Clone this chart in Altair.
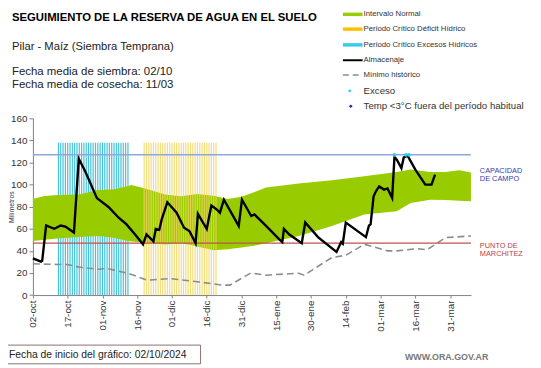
import altair as alt
import pandas as pd

# ---------------- data ----------------
tick_days = list(range(0, 181, 15))
tick_labels = ["02-oct", "17-oct", "01-nov", "16-nov", "01-dic", "16-dic", "31-dic",
               "15-ene", "30-ene", "14-feb", "01-mar", "16-mar", "31-mar"]

band_days = [0, 5, 10.6, 20, 28, 35, 41, 42.5, 48, 57, 64, 71, 78, 84, 90, 96.5,
             100.6, 114.7, 129, 143, 157, 163, 171.4, 178, 184, 189]
band_high = [86.9, 89.8, 90.7, 91, 95.2, 95.8, 98.8, 99.7, 96.7, 91, 89.5, 91.5, 90,
             87, 89, 94, 97.5, 101, 104, 107.6, 111.5, 113.6, 111.5, 111.5, 113, 111]
band_low = [49, 50, 51.2, 52.5, 53.5, 52, 49, 48.5, 47.6, 45.7, 46.9, 44, 40.5, 41.5,
            43, 45, 47, 53.5, 62.5, 72.9, 75.8, 83.3, 86.2, 86, 85.5, 85]

min_days = [0, 10.6, 14, 20, 28, 32, 41, 49.5, 59, 71, 82, 85, 94, 100.5, 114.7, 117,
            129, 135, 143, 153, 157, 165.6, 170, 178, 189]
min_vals = [28.3, 27.7, 28, 25.3, 23.4, 24, 19.7, 13.4, 15, 12, 9, 9, 20, 18, 19.8, 18,
            34, 36, 46, 40, 40, 42, 41, 52, 53.5]

alm_days = [0, 3.5, 4.0, 5.7, 9.2, 12, 14, 17.7, 19.8, 22.7, 27.6, 32.6, 37, 40.4, 44,
            47.5, 49, 52, 53, 54.5, 55.6, 58, 62, 65.2, 67.5, 70.2, 71.2, 75, 77, 79.3,
            80.7, 82.4, 88.8, 90.2, 94.2, 95.6, 100.6, 106.2, 107.6, 108.3, 110.5, 116,
            117.5, 123, 131, 133, 133.7, 135, 143.7, 145, 145.7, 147, 148, 149.4, 151.5,
            153, 155, 156, 157, 159, 160, 161.6, 165, 169.3, 172, 173.5]
alm_vals = [33.3, 30.3, 31, 63, 60, 63, 62, 56.6, 123.4, 111.5, 87.8, 79.8, 70, 64, 55,
            46, 55, 48.6, 59.8, 59, 68.7, 84, 74.6, 61, 58, 47, 73.5, 59.8, 81, 77.5,
            74.6, 86.4, 62.6, 86.4, 71.6, 73, 62.6, 50.6, 48, 60, 55, 47, 65.7, 52.5,
            39, 48, 46.5, 65.7, 52.5, 63, 64, 89.5, 94, 98.4, 95.5, 96.5, 88, 125,
            122.6, 115, 124.6, 126.5, 113.6, 100, 100, 109]

exceso_days = [156, 161, 162.3]
exceso_vals = [127, 127, 127]

excess_period = list(range(11, 42))     # Periodo crítico excesos hídricos
deficit_period = list(range(48, 80))    # Periodo crítico déficit hídrico
period_top = 138

capacidad_campo = 127
punto_marchitez = 47

# ---------------- layout helpers ----------------
OX, OY = 33.3, 117.3          # page position of plot origin
W, H = 444.7, 179.4
FONT = "Liberation Sans"

labels_js = "[" + ",".join("'%s'" % t for t in tick_labels) + "]"

x_axis = alt.Axis(values=tick_days, labelExpr=labels_js + "[round(datum.value/15)]",
                  labelAngle=-90, labelFontSize=10, labelColor="#333333", labelFont=FONT,
                  tickSize=3, tickColor="#808080", domainColor="#808080", grid=False,
                  title=None, labelPadding=2, labelOverlap=False)
y_axis = alt.Axis(values=list(range(0, 161, 20)), labelFontSize=10, labelColor="#333333",
                  labelFont=FONT, tickSize=4, tickColor="#808080", domainColor="#808080",
                  grid=False, title="Milímetros", titleFontSize=7, titleFontWeight="normal",
                  titleColor="#333333", titleFont=FONT, titleX=-22, titleY=H / 2,
                  titleAngle=-90, titleAlign="center", titleBaseline="middle", labelPadding=2)

xs = alt.Scale(domain=[0, 189], nice=False, zero=False)
ys = alt.Scale(domain=[0, 160], nice=False)


def X(f):
    return alt.X(f, type="quantitative", scale=xs, axis=x_axis)


def Y(f):
    return alt.Y(f, type="quantitative", scale=ys, axis=y_axis)


one = pd.DataFrame({"a": [0]})


def txt(text, px, py, size=10, color="#222222", weight="normal", align="left"):
    return alt.Chart(one).mark_text(text=text, align=align, baseline="middle", font=FONT,
                                    fontSize=size, color=color, fontWeight=weight).encode(
        x=alt.value(px - OX), y=alt.value(py - OY))


# ---------------- data layers ----------------
band_df = pd.DataFrame({"day": band_days, "low": band_low, "high": band_high})
band = alt.Chart(band_df).mark_area(color="#99CC00", opacity=1).encode(
    x=X("day"), y=Y("low"), y2="high")

exc_df = pd.DataFrame({"day": excess_period, "top": [period_top] * len(excess_period), "base": 0})
exc = alt.Chart(exc_df).mark_rule(color="#45C3DA", strokeWidth=1.2).encode(
    x=X("day"), y=Y("base"), y2="top")

def_df = pd.DataFrame({"day": deficit_period, "top": [period_top] * len(deficit_period), "base": 0})
dfc = alt.Chart(def_df).mark_rule(color="#EFD45C", strokeWidth=1.2, opacity=0.8).encode(
    x=X("day"), y=Y("base"), y2="top")

min_df = pd.DataFrame({"day": min_days, "mm": min_vals})
minimo = alt.Chart(min_df).mark_line(color="#8C8C8C", strokeWidth=1.6, strokeDash=[7, 4]).encode(
    x=X("day"), y=Y("mm"))

ref_df = pd.DataFrame({"day": [0, 0], "day2": [189, 189],
                       "mm": [capacidad_campo, punto_marchitez],
                       "kind": ["cc", "pm"]})
cc = alt.Chart(ref_df[ref_df.kind == "cc"]).mark_rule(color="#8FA8D8", strokeWidth=1.6).encode(
    x=X("day"), x2="day2", y=Y("mm"))
pm = alt.Chart(ref_df[ref_df.kind == "pm"]).mark_rule(color="#C0504D", strokeWidth=1.2).encode(
    x=X("day"), x2="day2", y=Y("mm"))

alm_df = pd.DataFrame({"day": alm_days, "mm": alm_vals})
alm = alt.Chart(alm_df).mark_line(color="#000000", strokeWidth=2.4).encode(
    x=X("day"), y=Y("mm"))

exs_df = pd.DataFrame({"day": exceso_days, "mm": exceso_vals})
exs = alt.Chart(exs_df).mark_point(color="#33CCEE", filled=True, size=14, opacity=1).encode(
    x=X("day"), y=Y("mm"))

# ---------------- legend (manual) ----------------
leg_names = ["Intervalo Normal", "Periodo Crítico Déficit Hídrico",
             "Periodo Crítico Excesos Hídricos", "Almacenaje", "Mínimo histórico",
             "Exceso", "Temp <3°C fuera del período habitual"]
leg_y = [11.7, 26.7, 42.7, 58.3, 73.3, 89.3, 105]
leg_size = [7.9, 7.9, 7.9, 7.9, 7.9, 9.8, 9.8]
leg_layers = []
for name, ly, fs in zip(leg_names, leg_y, leg_size):
    leg_layers.append(txt(name, 369, ly, size=fs, color="#333333"))


def swatch(color, ly, width, dash=None):
    kw = dict(color=color, strokeWidth=width)
    if dash:
        kw["strokeDash"] = dash
    return alt.Chart(one).mark_rule(**kw).encode(
        x=alt.value(348 - OX), x2=alt.value(368 - OX), y=alt.value(ly - OY))


leg_layers += [
    swatch("#99CC00", leg_y[0], 3.5),
    swatch("#FFC000", leg_y[1], 3.5),
    swatch("#33CCEE", leg_y[2], 3.5),
    swatch("#000000", leg_y[3], 2),
    swatch("#8C8C8C", leg_y[4], 1.6, [6, 4]),
    alt.Chart(one).mark_point(color="#33CCEE", filled=True, size=8, opacity=1).encode(
        x=alt.value(355 - OX), y=alt.value(leg_y[5] - OY)),
    alt.Chart(one).mark_point(color="#1F2F9F", filled=True, shape="diamond", size=14,
                              opacity=1).encode(
        x=alt.value(356 - OX), y=alt.value(leg_y[6] - OY)),
]

# ---------------- annotations ----------------
notes = [
    txt("SEGUIMIENTO DE LA RESERVA DE AGUA  EN EL SUELO", 12, 15, size=11.5,
        color="#000000", weight="bold"),
    txt("Pilar - Maíz  (Siembra Temprana)", 12, 45, size=11.4, color="#222222"),
    txt("Fecha media de siembra: 02/10", 12, 70.5, size=11.6, color="#222222"),
    txt("Fecha media de cosecha: 11/03", 12, 83, size=11.6, color="#222222"),
    txt("CAPACIDAD", 487, 171, size=7.5, color="#3A3AB0"),
    txt("DE  CAMPO", 487, 179, size=7.5, color="#3A3AB0"),
    txt("PUNTO  DE", 487, 246.5, size=7.5, color="#C04040"),
    txt("MARCHITEZ", 487, 255, size=7.5, color="#C04040"),
    alt.Chart(one).mark_rect(fill="white", stroke="#8B7070", strokeWidth=1).encode(
        x=alt.value(3.5 - OX), x2=alt.value(203.5 - OX),
        y=alt.value(347.5 - OY), y2=alt.value(366.5 - OY)),
    txt("Fecha de inicio del gráfico:  02/10/2024", 9, 357.5, size=10.5, color="#222222"),
    txt("WWW.ORA.GOV.AR", 411, 360, size=9, color="#777777", weight="bold"),
]

chart = alt.layer(exc, band, dfc, minimo, cc, pm, alm, exs, *leg_layers, *notes).properties(
    width=W, height=H,
    autosize=alt.AutoSizeParams(type="none"),
    padding={"left": OX - 8, "top": OY - 8, "right": 533 - (OX - 8) - W,
             "bottom": 360 - (OY - 8) - H},
    background="white",
).configure_view(stroke=None)

chart.save("out.html", embed_options={"renderer": "svg", "actions": False})
